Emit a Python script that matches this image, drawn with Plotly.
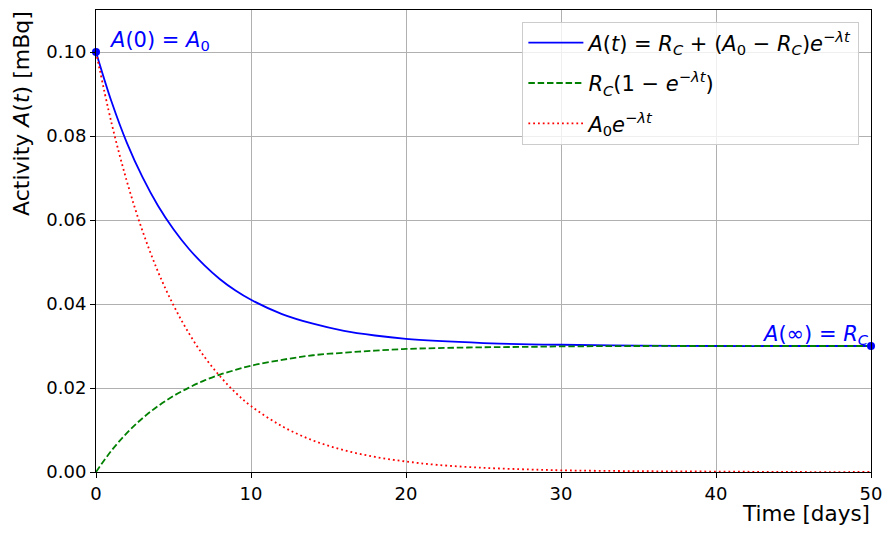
import plotly.graph_objects as go

# Values
t_days = [0, 1, 2, 3, 4, 5, 6, 7, 8, 9, 10, 12, 14, 16, 18, 20, 22, 25, 28, 30, 35, 40, 45, 50]
activity_total = [0.1000, 0.0882, 0.0783, 0.0702, 0.0634, 0.0578, 0.0531, 0.0492, 0.0459, 0.0432,
                  0.0410, 0.0376, 0.0353, 0.0336, 0.0325, 0.0317, 0.0312, 0.0307, 0.0304, 0.0303,
                  0.0301, 0.0300, 0.0300, 0.0300]
activity_growth = [0.0000, 0.0051, 0.0093, 0.0128, 0.0157, 0.0181, 0.0201, 0.0218, 0.0232, 0.0243,
                   0.0253, 0.0267, 0.0278, 0.0284, 0.0289, 0.0293, 0.0295, 0.0297, 0.0298, 0.0299,
                   0.0300, 0.0300, 0.0300, 0.0300]
activity_decay = [0.1000, 0.0831, 0.0691, 0.0574, 0.0477, 0.0397, 0.0330, 0.0274, 0.0228, 0.0189,
                  0.0157, 0.0109, 0.0075, 0.0052, 0.0036, 0.0025, 0.0017, 0.0010, 0.0006, 0.0004,
                  0.0002, 0.0001, 0.0000, 0.0000]
endpoint_t = [0, 50]
endpoint_a = [0.10, 0.03]
x_ticks = [0, 10, 20, 30, 40, 50]
y_ticks = [0.00, 0.02, 0.04, 0.06, 0.08, 0.10]

FONT = "DejaVu Sans"

fig = go.Figure()
fig.add_trace(go.Scatter(
    x=t_days, y=activity_total, mode="lines", line=dict(color="blue", width=1.8, shape="spline"),
    legendgroup="a",
    name="<i>A</i>(<i>t</i>) = <i>R<sub>C</sub></i> + (<i>A</i><sub>0</sub> − <i>R<sub>C</sub></i>)<i>e</i><sup>−<i>λt</i></sup>"))
fig.add_trace(go.Scatter(
    x=t_days, y=activity_growth, mode="lines",
    line=dict(color="green", width=1.8, dash="6.5px,2.8px", shape="spline"),
    legendgroup="b",
    name="<i>R<sub>C</sub></i>(1 − <i>e</i><sup>−<i>λt</i></sup>)"))
fig.add_trace(go.Scatter(
    x=t_days, y=activity_decay, mode="lines",
    line=dict(color="red", width=1.8, dash="1.8px,3px", shape="spline"),
    legendgroup="c",
    name="<i>A</i><sub>0</sub><i>e</i><sup>−<i>λt</i></sup>"))
fig.add_trace(go.Scatter(
    x=endpoint_t, y=endpoint_a, mode="markers", marker=dict(color="blue", size=8),
    showlegend=False, cliponaxis=False))

fig.add_annotation(x=0.7, y=0.10, xref="x", yref="y", xanchor="left", yanchor="bottom",
                   text="<i>A</i>(0) = <i>A</i><sub>0</sub>", showarrow=False,
                   font=dict(family=FONT, size=21, color="blue"), yshift=-4)
fig.add_annotation(x=50, y=0.03, xref="x", yref="y", xanchor="right", yanchor="bottom",
                   text="<i>A</i>(∞) = <i>R<sub>C</sub></i>", showarrow=False,
                   font=dict(family=FONT, size=21, color="blue"), yshift=-4)

fig.add_annotation(x=1, y=0, xref="paper", yref="paper", xanchor="right", yanchor="top",
                   text="Time [days]", showarrow=False, yshift=-27, xshift=1,
                   font=dict(family=FONT, size=21.5, color="black"))
fig.add_annotation(x=0, y=1, xref="paper", yref="paper", xanchor="right", yanchor="top",
                   text="Activity <i>A</i>(<i>t</i>) [mBq]", showarrow=False, textangle=-90,
                   xshift=-60, yshift=1, font=dict(family=FONT, size=22, color="black"))

axis_common = dict(showgrid=True, gridcolor="#b0b0b0", gridwidth=1, showline=True, linecolor="black",
                   linewidth=1, mirror=True, ticks="outside", ticklen=5, tickcolor="black",
                   zeroline=False, tickfont=dict(family=FONT, size=18, color="black"))
fig.update_xaxes(range=[0, 50], tickvals=x_ticks, ticktext=[str(v) for v in x_ticks], **axis_common)
fig.update_yaxes(range=[0, 0.11], tickvals=y_ticks, ticktext=[f"{v:.2f}" for v in y_ticks], **axis_common)

fig.update_layout(
    width=893, height=539,
    margin=dict(l=88, r=30, t=2, b=75),
    plot_bgcolor="white", paper_bgcolor="white",
    font=dict(family=FONT, color="black"),
    legend=dict(x=0.985, y=0.975, xanchor="right", yanchor="top",
                bgcolor="rgba(255,255,255,0.8)", bordercolor="#cccccc", borderwidth=1,
                font=dict(family=FONT, size=21, color="black"), itemwidth=55,
                tracegroupgap=10),
)

fig.write_html("out.html")
